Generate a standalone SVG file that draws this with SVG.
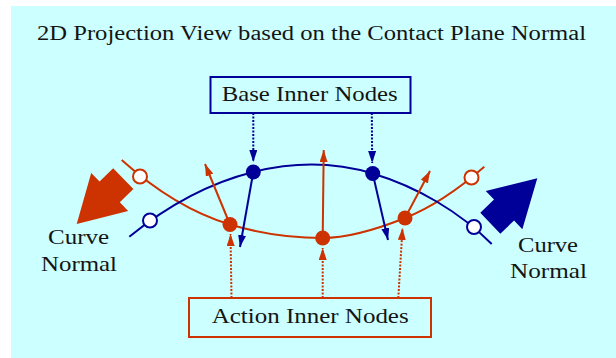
<svg xmlns="http://www.w3.org/2000/svg" width="616" height="358" viewBox="0 0 616 358">
<defs>
<style>
.txt{font-family:"Liberation Serif","Times New Roman",serif;fill:#141414}
.blue{stroke:#000099;fill:none;stroke-width:2}
.red{stroke:#CC3300;fill:none;stroke-width:2}
.dotb{stroke:#000099;fill:none;stroke-width:2;stroke-dasharray:2 1.5}
.dotr{stroke:#CC3300;fill:none;stroke-width:2;stroke-dasharray:2 1.5}
.bn{fill:#000099}
.rn{fill:#CC3300}
.ob{fill:#fff;stroke:#000099;stroke-width:2}
.or{fill:#fff;stroke:#CC3300;stroke-width:2}
</style>
<marker id="ab" markerUnits="userSpaceOnUse" markerWidth="13" markerHeight="9" refX="12" refY="4" orient="auto"><path d="M0,0 L12,4 L0,8 z" fill="#000099"/></marker>
<marker id="ar" markerUnits="userSpaceOnUse" markerWidth="13" markerHeight="9" refX="12" refY="4" orient="auto"><path d="M0,0 L12,4 L0,8 z" fill="#CC3300"/></marker>
<path id="bigarrow" d="M0,0 L-46,-26.5 L-46,-14.5 L-65,-14.5 L-65,14.5 L-46,14.5 L-46,26.5 z"/>
</defs>
<rect x="11" y="6" width="605" height="352" fill="#CCFFFF"/>
<text class="txt" x="37" y="40" font-size="20.5" textLength="549" lengthAdjust="spacingAndGlyphs">2D Projection View based on the Contact Plane Normal</text>

<g id="curves">
<path class="red" d="M121.7,160 C152.9,188.1 189.8,212.4 230,224.5 C259.7,233.4 291.7,238 322.7,238 C350.7,238 379,228.4 405,218 C433.8,206.5 460.9,187.1 484.3,166.7"/>
<path class="blue" d="M129.3,236.7 C165.8,207.1 207.7,183.4 253.3,172 C292.1,162.3 334.4,162 372.7,173.5 C416.8,186.7 459.2,211.5 491.7,244"/>
</g>

<g id="connectors">
<line class="red" x1="230" y1="224.5" x2="205" y2="164" marker-end="url(#ar)"/>
<line class="red" x1="322.7" y1="238" x2="323.7" y2="150" marker-end="url(#ar)"/>
<line class="red" x1="405" y1="218" x2="430" y2="171" marker-end="url(#ar)"/>
<line class="blue" x1="253.3" y1="172" x2="240" y2="247" marker-end="url(#ab)"/>
<line class="blue" x1="372.7" y1="173.5" x2="388" y2="240" marker-end="url(#ab)"/>
<line class="dotb" x1="253.3" y1="113" x2="253.3" y2="162" marker-end="url(#ab)"/>
<line class="dotb" x1="371.8" y1="113" x2="372.2" y2="163" marker-end="url(#ab)"/>
<line class="dotr" x1="231.5" y1="298" x2="230.5" y2="234" marker-end="url(#ar)"/>
<line class="dotr" x1="322.7" y1="298" x2="322.7" y2="248" marker-end="url(#ar)"/>
<line class="dotr" x1="398.3" y1="298" x2="402.5" y2="228" marker-end="url(#ar)"/>
</g>

<g id="red-open-left"><circle class="or" cx="140" cy="176.5" r="7"/></g>
<g id="red-open-right"><circle class="or" cx="471.5" cy="177.5" r="7"/></g>
<g id="blue-open-left"><circle class="ob" cx="150" cy="220.5" r="7"/></g>
<g id="blue-open-right"><circle class="ob" cx="474" cy="227" r="7"/></g>
<g id="base-node-1"><circle class="bn" cx="253.3" cy="172" r="7.5"/></g>
<g id="base-node-2"><circle class="bn" cx="372.7" cy="173.5" r="7.5"/></g>
<g id="action-node-1"><circle class="rn" cx="230" cy="224.5" r="7.5"/></g>
<g id="action-node-2"><circle class="rn" cx="322.7" cy="238" r="7.5"/></g>
<g id="action-node-3"><circle class="rn" cx="405" cy="218" r="7.5"/></g>

<g id="curve-normal-left">
<use href="#bigarrow" fill="#CC3300" transform="translate(76.7,224) rotate(135.8)"/>
<text class="txt" x="48" y="244" font-size="22" textLength="61" lengthAdjust="spacingAndGlyphs">Curve</text>
<text class="txt" x="41" y="271" font-size="22" textLength="76" lengthAdjust="spacingAndGlyphs">Normal</text>
</g>
<g id="curve-normal-right">
<use href="#bigarrow" fill="#000099" transform="translate(537.3,178.3) rotate(-43.7)"/>
<text class="txt" x="518" y="252" font-size="22" textLength="60" lengthAdjust="spacingAndGlyphs">Curve</text>
<text class="txt" x="510" y="278" font-size="22" textLength="77" lengthAdjust="spacingAndGlyphs">Normal</text>
</g>

<g id="base-inner-nodes">
<rect x="210.5" y="77" width="200" height="36" fill="#CCFFFF" stroke="#000099" stroke-width="2"/>
<text class="txt" x="221.7" y="101" font-size="21.5" textLength="176" lengthAdjust="spacingAndGlyphs">Base Inner Nodes</text>
</g>
<g id="action-inner-nodes">
<rect x="189" y="298" width="242" height="39" fill="#CCFFFF" stroke="#CC3300" stroke-width="2"/>
<text class="txt" x="211.7" y="323.3" font-size="21.5" textLength="197" lengthAdjust="spacingAndGlyphs">Action Inner Nodes</text>
</g>
</svg>
